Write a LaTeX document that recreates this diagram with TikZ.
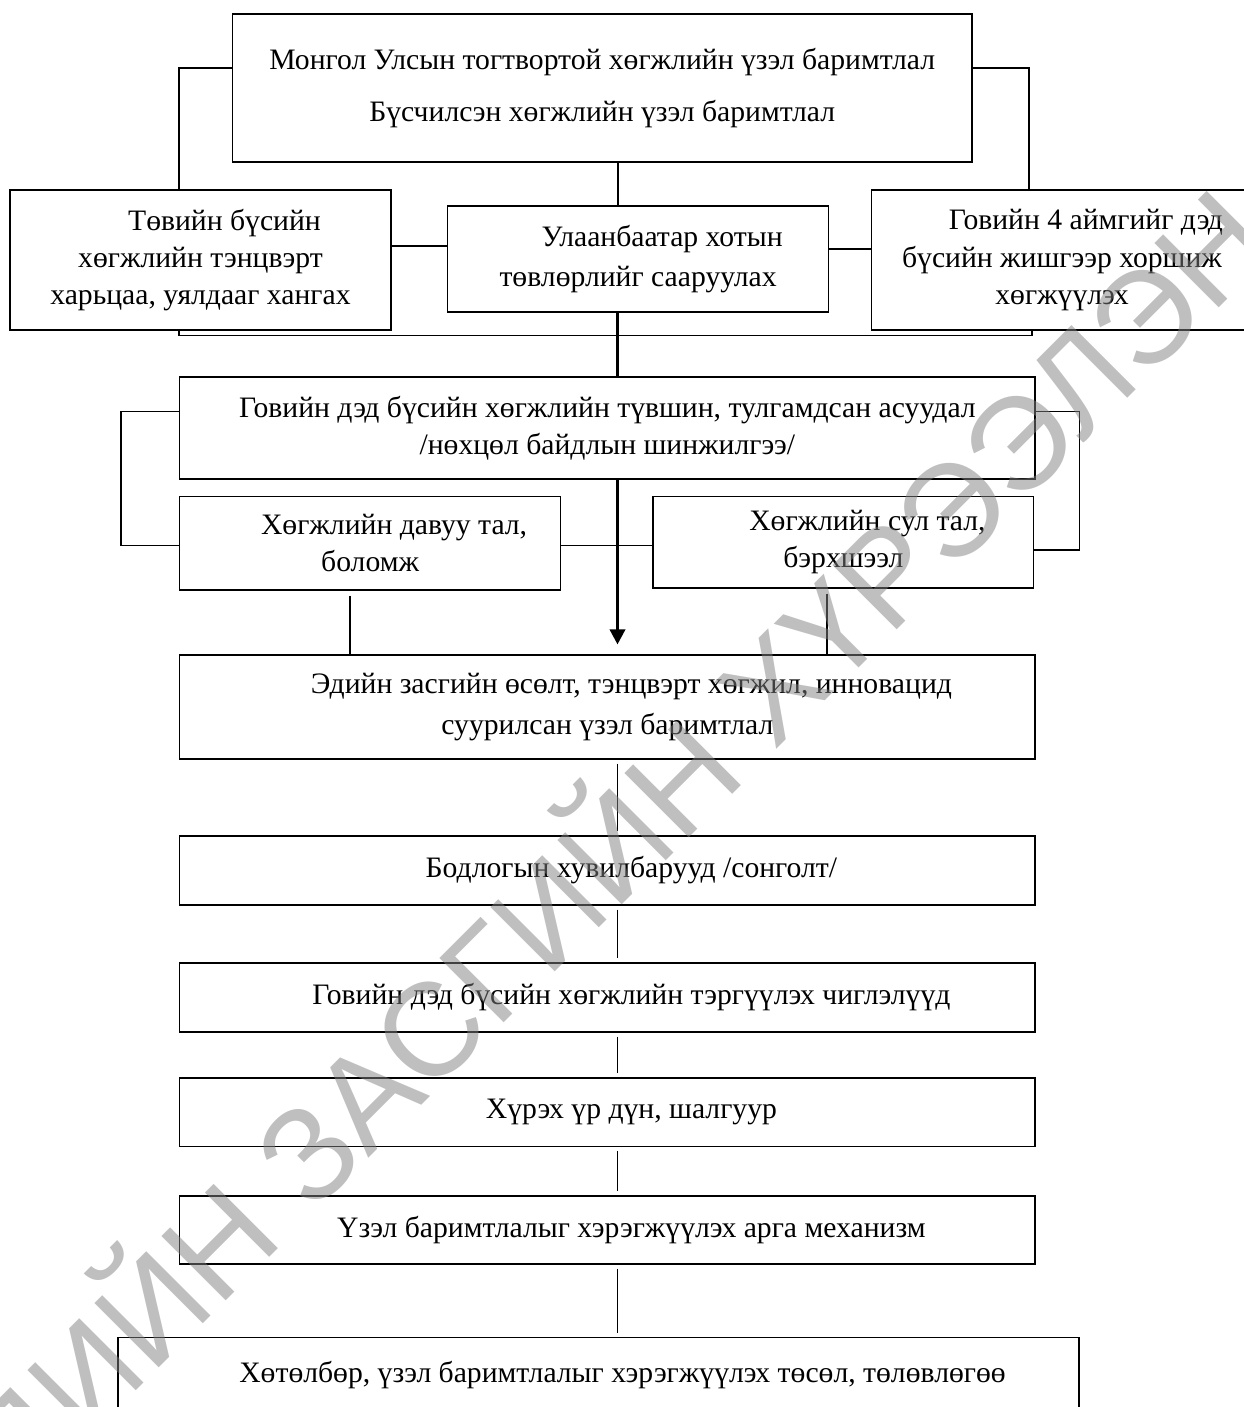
\documentclass[tikz,border=0pt]{standalone}
\usepackage{fontspec}
\setmainfont{Liberation Serif}
\newfontfamily\stampfont{Liberation Sans}
\usetikzlibrary{arrows.meta}

\begin{document}
\begin{tikzpicture}[x=0.025cm, y=-0.025cm]
      \tikzset{boxed/.style 2 args={draw, line width=0.9pt, align=center, inner sep=0pt, minimum width=#1*0.025cm, minimum height=#2*0.025cm, font=\fontsize{21.1pt}{26.5pt}\selectfont},
               link/.style={line width=0.8pt},
               gaplink/.style={link, shorten <=0.1cm, shorten >=0.1cm},
               heavy/.style={line width=1.8pt}}
      \useasboundingbox (0,0) rectangle (1243,1407);

      \node[boxed={739.5}{148}] (top) at (602.2,88) {Монгол Улсын тогтвортой хөгжлийн үзэл баримтлал\\[11pt]Бүсчилсэн хөгжлийн үзэл баримтлал};
      \node[boxed={381}{140}] (central) at (200.5,260) {\hspace*{1.2cm}Төвийн бүсийн\\хөгжлийн тэнцвэрт\\харьцаа, уялдааг хангах};
      \node[boxed={381}{106}] (ulaan) at (638.1,259) {\hspace*{1.2cm}Улаанбаатар хотын\\[2pt]төвлөрлийг сааруулах};
      \node[boxed={381}{140}] (gobi) at (1062,260) {\hspace*{1.2cm}Говийн 4 аймгийг дэд\\бүсийн жишгээр хоршиж\\хөгжүүлэх};
      \node[boxed={855.3}{102}] (status) at (607.4,428) {Говийн дэд бүсийн хөгжлийн түвшин, тулгамдсан асуудал\\/нөхцөл байдлын шинжилгээ/};
      \node[boxed={380.8}{93.3}] (strength) at (370.1,543.3) {\hspace*{1.2cm}Хөгжлийн давуу тал,\\боломж};
      \node[boxed={380.7}{91.3}] (weak) at (843.4,542.3) {\hspace*{1.2cm}Хөгжлийн сул тал,\\бэрхшээл};
      \node[boxed={855.3}{104}] (econ) at (607.4,707) {\hspace*{1.2cm}Эдийн засгийн өсөлт, тэнцвэрт хөгжил, инновацид\\[2pt]суурилсан үзэл баримтлал};
      \node[boxed={855.3}{69}] (options) at (607.4,870.5) {\hspace*{1.2cm}Бодлогын хувилбарууд /сонголт/};
      \node[boxed={855.3}{69}] (priority) at (607.4,997.5) {\hspace*{1.2cm}Говийн дэд бүсийн хөгжлийн тэргүүлэх чиглэлүүд};
      \node[boxed={855.3}{68.7}] (result) at (607.4,1112.3) {\hspace*{1.2cm}Хүрэх үр дүн, шалгуур};
      \node[boxed={855.3}{68}] (mechanism) at (607.4,1230) {\hspace*{1.2cm}Үзэл баримтлалыг хэрэгжүүлэх арга механизм};
      \node[boxed={961.1}{74.3}] (program) at (598.5,1374.8) {\hspace*{1.2cm}Хөтөлбөр, үзэл баримтлалыг хэрэгжүүлэх төсөл, төлөвлөгөө};

      \coordinate (jl) at (179,68);
      \coordinate (jr) at (1029,68);
      \coordinate (jm) at (618,0);
      \coordinate (jt) at (617.5,0);
      \coordinate (bl) at (121,411.7);
      \coordinate (br) at (1079.6,411.7);

      \draw[link] (top.west |- jl) -| (central.north -| jl);
      \draw[link] (top.east |- jr) -| (gobi.north -| jr);
      \draw[link] (top.south -| jm) -- (ulaan.north -| jm);
      \draw[link] (central.east |- 0,246) -- (ulaan.west |- 0,246);
      \draw[link] (ulaan.east |- 0,249) -- (gobi.west |- 0,249);
      \draw[link] (central.south -| jl) -- ++(0,5) -| (gobi.south -| 1032,0);
      \draw[heavy] (ulaan.south -| jt) -- (status.north -| jt);

      \draw[link] (status.west |- bl) -- (bl) |- (strength.west |- 0,545.7);
      \draw[link] (status.east |- br) -- (br) |- (weak.east |- 0,550);
      \draw[link] (strength.east |- 0,545.7) -- (weak.west |- 0,545.7);
      \draw[link, shorten <=0.125cm] (strength.south -| 350,0) -- (econ.north -| 350,0);
      \draw[link, shorten <=0.125cm] (weak.south -| 827,0) -- (econ.north -| 827,0);
      \draw[heavy, -{Triangle[length=10.7pt, width=11pt]}, shorten >=0.25cm] (status.south -| jt) -- (econ.north -| jt);

      \foreach \a/\b in {econ/options, options/priority, priority/result, result/mechanism, mechanism/program}
        \draw[gaplink] (\a.south -| jt) -- (\b.north -| jt);

      \node[rotate=45, text=black!50, text opacity=0.5, inner sep=0pt, font=\stampfont\fontsize{94pt}{94pt}\selectfont] (stamp) at (585,876) {ЭДИЙН ЗАСГИЙН ХҮРЭЭЛЭН};
\end{tikzpicture}
\end{document}
